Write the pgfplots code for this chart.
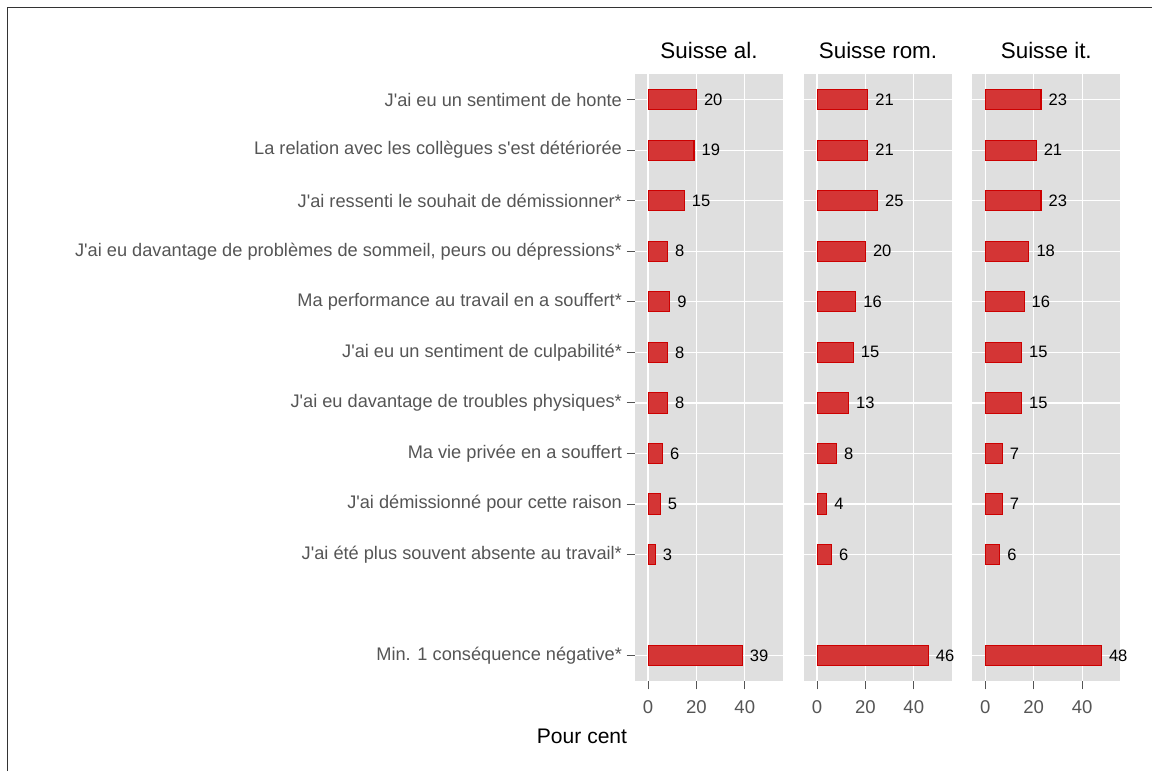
\documentclass[border=0pt]{standalone}
\usepackage{pgfplots}
\usepackage{pgfplotstable}
\pgfplotsset{compat=1.18}
\usepackage{fontspec}
\setmainfont{Liberation Sans}[Ligatures=TeXOff]
\definecolor{barfill}{HTML}{D43535}
\definecolor{barline}{HTML}{CC0000}
\definecolor{panelbg}{HTML}{DFDFDF}
\definecolor{ticklab}{HTML}{555555}
\def\P#1{#1*0.75pt}
\pgfplotstableread{
y a b c
12 20 21 23
11 19 21 21
10 15 25 23
9 8 20 18
8 9 16 16
7 8 15 15
6 8 13 15
5 6 8 7
4 5 4 7
3 3 6 6
1 39 46 48
}\data
\pgfplotsset{panel/.style={
  scale only axis, width=111pt, height=455pt,
  anchor=south west,
  /pgf/number format/assume math mode=true,
  xmin=-5.4, xmax=55.8, ymin=0.5, ymax=12.5,
  axis background/.style={fill=panelbg},
  axis line style={draw=none},
  grid=major, major grid style={white, line width=0.9pt},
  xtick={0,20,40}, ytick={1,3,4,5,6,7,8,9,10,11,12},
  xtick pos=bottom, ytick pos=left,
  tick align=outside, major tick length=6.3pt,
  tick style={ticklab, line width=0.8pt},
  xticklabel style={font=\fontsize{13.9}{15}\selectfont, text=ticklab, yshift=-5pt},
  yticklabel style={font=\fontsize{13.65}{15}\selectfont, text=ticklab},
  title style={font=\fontsize{16.8}{18}\selectfont, at={(0.5,1)}, anchor=center, yshift=12pt},
  xbar, bar width=0.4,
  point meta=x,
  nodes near coords,
  nodes near coords style={anchor=west, inner sep=0pt, xshift=5.3pt, font=\fontsize{12.4}{14}\selectfont, text=black},
  clip=false,
}}
\begin{document}
\begin{tikzpicture}
\path[use as bounding box] (0,0) rectangle (\P{1152},\P{771});
\draw[line width=1pt, color=black!80] (\P{7.5},0) -- (\P{7.5},\P{763.5}) -- (\P{1152},\P{763.5});
\begin{axis}[panel, at={(\P{635},\P{90})}, title={Suisse al.},
  yticklabels={{Min. 1 conséquence négative*},
    {J'ai été plus souvent absente au travail*},
    {J'ai démissionné pour cette raison},
    {Ma vie privée en a souffert},
    {J'ai eu davantage de troubles physiques*},
    {J'ai eu un sentiment de culpabilité*},
    {Ma performance au travail en a souffert*},
    {J'ai eu davantage de problèmes de sommeil, peurs ou dépressions*},
    {J'ai ressenti le souhait de démissionner*},
    {La relation avec les collègues s'est détériorée},
    {J'ai eu un sentiment de honte}}]
\addplot[fill=barfill, draw=barline, line width=0.8pt] table[x=a, y=y] {\data};
\end{axis}
\begin{axis}[panel, at={(\P{804},\P{90})}, title={Suisse rom.},
  yticklabels={}, y tick style={draw=none}]
\addplot[fill=barfill, draw=barline, line width=0.8pt] table[x=b, y=y] {\data};
\end{axis}
\begin{axis}[panel, at={(\P{972.3},\P{90})}, title={Suisse it.},
  yticklabels={}, y tick style={draw=none}]
\addplot[fill=barfill, draw=barline, line width=0.8pt] table[x=c, y=y] {\data};
\end{axis}
\node[font=\fontsize{15.8}{17}\selectfont] at (\P{582},\P{34.3}) {Pour cent};
\end{tikzpicture}
\end{document}
